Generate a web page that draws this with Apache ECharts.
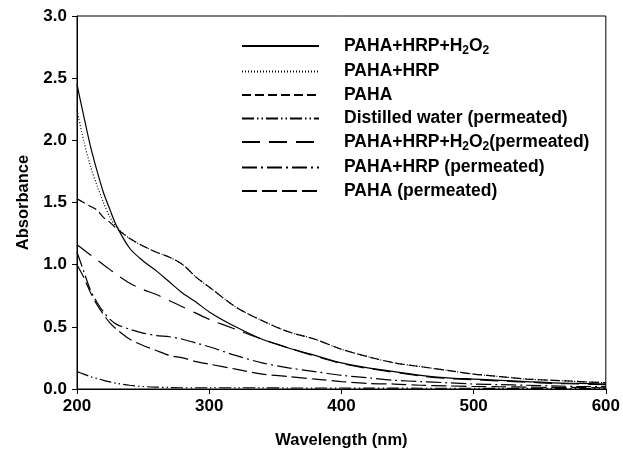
<!DOCTYPE html>
<html><head><meta charset="utf-8">
<script src="https://cdn.jsdelivr.net/npm/echarts@6/dist/echarts.min.js"></script>
<style>html,body{margin:0;padding:0;background:#fff}#c{width:623px;height:460px}</style>
</head><body><div id="c"></div>
<script>
const wavelengths = [200,205,210,215,220,225,230,240,250,260,270,280,290,300,320,340,360,380,400,420,440,460,480,500,520,540,560,580,600];
const pahaHrpH2o2 = [2.45,2.20,1.96,1.76,1.58,1.44,1.31,1.13,1.03,0.95,0.86,0.77,0.70,0.62,0.50,0.40,0.33,0.27,0.21,0.17,0.14,0.11,0.09,0.08,0.07,0.06,0.05,0.045,0.04];
const pahaHrp = [2.24,2.00,1.80,1.64,1.50,1.38,1.30,1.21,1.15,1.10,1.06,1.00,0.90,0.82,0.66,0.55,0.46,0.40,0.32,0.26,0.21,0.18,0.15,0.12,0.10,0.08,0.07,0.06,0.05];
const paha = [1.53,1.50,1.47,1.44,1.38,1.34,1.29,1.21,1.15,1.10,1.06,1.00,0.90,0.82,0.66,0.55,0.46,0.40,0.32,0.26,0.21,0.18,0.15,0.12,0.10,0.08,0.07,0.06,0.05];
const distilledPerm = [0.14,0.12,0.10,0.085,0.07,0.057,0.045,0.03,0.02,0.015,0.012,0.01,0.01,0.01,0.01,0.01,0.008,0.008,0.008,0.007,0.007,0.006,0.006,0.006,0.005,0.005,0.005,0.005,0.005];
const pahaHrpH2o2Perm = [1.16,1.12,1.08,1.04,1.00,0.96,0.92,0.85,0.80,0.76,0.71,0.66,0.61,0.56,0.48,0.40,0.33,0.265,0.205,0.165,0.135,0.105,0.085,0.075,0.065,0.055,0.045,0.04,0.035];
const pahaHrpPerm = [1.10,0.95,0.80,0.70,0.62,0.56,0.52,0.48,0.45,0.43,0.42,0.40,0.37,0.34,0.27,0.21,0.17,0.14,0.11,0.09,0.07,0.06,0.05,0.04,0.035,0.03,0.025,0.02,0.02];
const pahaPerm = [1.00,0.90,0.78,0.68,0.60,0.53,0.48,0.40,0.35,0.31,0.27,0.25,0.22,0.20,0.16,0.12,0.10,0.08,0.06,0.045,0.04,0.03,0.025,0.02,0.018,0.015,0.013,0.012,0.01];
const seriesNames = ['PAHA+HRP+H2O2','PAHA+HRP','PAHA','Distilled water (permeated)','PAHA+HRP+H2O2(permeated)','PAHA+HRP (permeated)','PAHA (permeated)'];
const seriesValues = [pahaHrpH2o2, pahaHrp, paha, distilledPerm, pahaHrpH2o2Perm, pahaHrpPerm, pahaPerm];
const xTicks = [200,300,400,500,600];
const yTicks = [0,0.5,1.0,1.5,2.0,2.5,3.0];

const dashes = ['solid',[1,2],[9,4],[12,3,1.5,3,1.5,3],[18,9],[15,4,2,4],[15,5]];
const font = 'Liberation Sans, Arial, sans-serif';

const chart = echarts.init(document.getElementById('c'), null, {renderer:'canvas'});
chart.setOption({
  animation:false,
  backgroundColor:'#fff',
  grid:{left:77,right:15,top:16,bottom:71,show:true,borderColor:'#000',borderWidth:1,backgroundColor:'transparent'},
  legend:{
    orient:'vertical', left:236, top:32, itemWidth:77, itemHeight:12, itemGap:5.5,
    data: seriesNames,
    itemStyle:{opacity:0},
    textStyle:{fontFamily:font,fontWeight:'bold',fontSize:17.5,color:'#000',padding:[0,0,0,20],
      rich:{sub:{fontFamily:font,fontWeight:'bold',fontSize:12,color:'#000',padding:[10,0,0,0]}}},
    formatter: n => n.replace(/2/g,'{sub|2}')
  },
  xAxis:{type:'value',min:xTicks[0],max:xTicks[xTicks.length-1],interval:100,
    name:'Wavelength (nm)',nameLocation:'middle',nameGap:43,
    nameTextStyle:{fontFamily:font,fontWeight:'bold',fontSize:16.5,color:'#000'},
    axisLine:{lineStyle:{color:'#000',width:1}},axisTick:{length:5,lineStyle:{color:'#000'}},
    axisLabel:{fontFamily:font,fontWeight:'bold',fontSize:17,color:'#000',margin:9},
    splitLine:{show:false}},
  yAxis:{type:'value',min:yTicks[0],max:yTicks[yTicks.length-1],interval:0.5,
    name:'Absorbance',nameLocation:'middle',nameGap:45,
    nameTextStyle:{fontFamily:font,fontWeight:'bold',fontSize:16.5,color:'#000'},
    axisLine:{show:true,lineStyle:{color:'#000',width:1}},axisTick:{show:true,length:5,lineStyle:{color:'#000'}},
    axisLabel:{fontFamily:font,fontWeight:'bold',fontSize:17,color:'#000',margin:10,formatter:v=>v.toFixed(1)},
    splitLine:{show:false}},
  series: seriesNames.map((n,i)=>({
    name:n,type:'line',smooth:0.3,symbol:'none',
    lineStyle:{color:'#000',width:1.2,type:dashes[i]},
    itemStyle:{color:'#000'},
    data: wavelengths.map((w,j)=>[w,seriesValues[i][j]])
  }))
});
</script></body></html>
